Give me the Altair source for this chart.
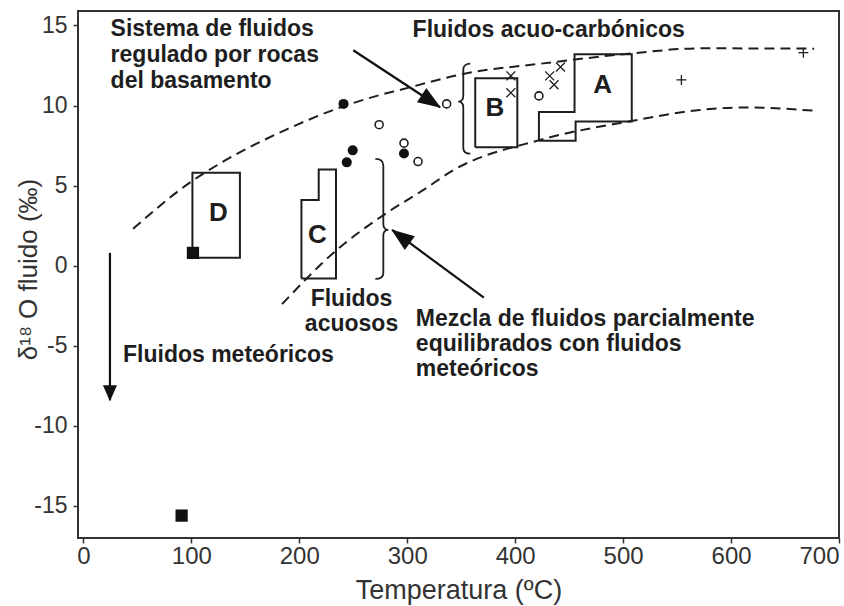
import math
import altair as alt
import pandas as pd

# ---------------- data ----------------
x_ticks = [0, 100, 200, 300, 400, 500, 600, 700]
y_ticks = [15, 10, 5, 0, -5, -10, -15]

# field boxes (closed outlines): temperature (ºC), d18O (‰)
box_D_t = [101, 145, 145, 101, 101]
box_D_d = [0.5, 0.5, 5.8, 5.8, 0.5]
box_C_t = [202, 234, 234, 218, 218, 202, 202]
box_C_d = [-0.8, -0.8, 6.0, 6.0, 4.1, 4.1, -0.8]
box_B_t = [363, 402, 402, 363, 363]
box_B_d = [7.4, 7.4, 11.7, 11.7, 7.4]
box_A_t = [422, 456, 456, 508, 508, 455, 455, 422, 422]
box_A_d = [7.8, 7.8, 9.0, 9.0, 13.2, 13.2, 9.6, 9.6, 7.8]

box_labels = ["D", "C", "B", "A"]
box_label_t = [125, 216.7, 381.3, 481]
box_label_d = [3.27, 1.92, 9.83, 11.28]

# dashed envelope curves
upper_t = [46, 102, 127, 188, 241, 275, 293, 354, 426, 509, 571, 677]
upper_d = [2.3, 5.35, 6.4, 8.5, 9.95, 10.66, 10.97, 12.0, 12.63, 13.26, 13.57, 13.55]
lower_t = [184, 235, 278, 315, 343, 423, 509, 571, 612, 680]
lower_d = [-2.4, 1.0, 3.16, 4.73, 5.97, 7.85, 9.05, 9.72, 9.88, 9.66]

# symbols
filled_t = [241, 249.5, 244, 297]
filled_d = [10.1, 7.2, 6.45, 7.0]
open_t = [274, 297, 310, 336.5, 422]
open_d = [8.8, 7.65, 6.5, 10.1, 10.6]
cross_t = [396, 396, 432, 442, 436]
cross_d = [11.85, 10.8, 11.85, 12.4, 11.3]
plus_t = [554, 667]
plus_d = [11.6, 13.3]
square_t = [101.5, 91]
square_d = [0.8, -15.6]

# arrows: start -> tip
arrow_kind = ["big", "big", "small"]
arrow_t0 = [250, 371, 24.6]
arrow_d0 = [13.45, -2.0, 0.8]
arrow_t1 = [330.4, 286, 24.6]
arrow_d1 = [9.89, 2.23, -8.4]

# braces (tip position)
brace_kind = ["open_right", "open_left"]
brace_t = [347.3, 282.5]
brace_d = [10.24, 2.23]

# annotation texts
left_text = ["Sistema de fluidos", "regulado por rocas", "del basamento",
             "Fluidos acuo-carbónicos",
             "Mezcla de fluidos parcialmente", "equilibrados con fluidos", "meteóricos",
             "Fluidos meteóricos"]
left_t = [25.2, 25.2, 25.2, 305, 308, 308, 308, 36.7]
left_d = [14.78, 13.14, 11.52, 14.71, -3.31, -4.88, -6.44, -5.55]
center_text = ["Fluidos", "acuosos"]
center_t = [248.4, 248.4]
center_d = [-2.05, -3.61]

# ---------------- layout / style ----------------
W, H = 761, 527
X_DOM = [-5, 700]
Y_DOM = [-17, 15.9]
INK = "#1e1e1e"
SANS = "Liberation Sans, Arial, sans-serif"
NARROW = "Liberation Sans Narrow, Arial Narrow, Liberation Sans, sans-serif"

xs = alt.Scale(domain=X_DOM, nice=False, zero=False)
ys = alt.Scale(domain=Y_DOM, nice=False, zero=False)

x_axis = alt.Axis(values=x_ticks, grid=False, domain=False, tickSize=5, tickWidth=1.5,
                  tickColor="#333", labelFont=NARROW, labelFontSize=24, labelColor="#333",
                  labelPadding=1, labelFlush=3, labelExpr="'' + datum.value",
                  title="Temperatura (ºC)", titleFont=SANS,
                  titleFontSize=27, titleFontWeight="normal", titleColor="#333",
                  titleY=60, titleBaseline="alphabetic")
y_axis = alt.Axis(values=y_ticks, grid=False, domain=False, tickSize=5, tickWidth=1.5,
                  tickColor="#333", labelFont=NARROW, labelFontSize=23, labelColor="#333",
                  labelPadding=6, labelExpr="'' + datum.value",
                  title="δ¹⁸ O fluido (‰)", titleFont=SANS,
                  titleFontSize=26, titleFontWeight="normal", titleColor="#333",
                  titleX=-50, titleY=258, titleAlign="center", titleBaseline="middle")


def X(field="t"):
    return alt.X(f"{field}:Q", scale=xs, axis=x_axis)


def Y(field="d"):
    return alt.Y(f"{field}:Q", scale=ys, axis=y_axis)


# ---------------- tables ----------------
rows = []
for name, tt, dd in [("D", box_D_t, box_D_d), ("C", box_C_t, box_C_d),
                     ("B", box_B_t, box_B_d), ("A", box_A_t, box_A_d)]:
    for i, (a, b) in enumerate(zip(tt, dd)):
        rows.append({"box": name, "i": i, "t": a, "d": b})
boxes = pd.DataFrame(rows)

rows = []
for name, tt, dd in [("upper", upper_t, upper_d), ("lower", lower_t, lower_d)]:
    for i, (a, b) in enumerate(zip(tt, dd)):
        rows.append({"curve": name, "i": i, "t": a, "d": b})
curves = pd.DataFrame(rows)

px_t = W / (X_DOM[1] - X_DOM[0])
px_d = H / (Y_DOM[1] - Y_DOM[0])
arrows = pd.DataFrame({"kind": arrow_kind, "t": arrow_t0, "d": arrow_d0,
                       "t2": arrow_t1, "d2": arrow_d1})
arrows["ang"] = [math.degrees(math.atan2((b - a) * px_t, (d - c) * px_d)) % 360
                 for a, b, c, d in zip(arrow_t0, arrow_t1, arrow_d0, arrow_d1)]
heads = arrows[["kind", "t2", "d2", "ang"]].rename(columns={"t2": "t", "d2": "d"})
heads_big = heads[heads["kind"] == "big"]
heads_small = heads[heads["kind"] == "small"]

braces = pd.DataFrame({"kind": brace_kind, "t": brace_t, "d": brace_d})

HEAD_BIG = "M0,-1L8.5,22L-8.5,22Z"
HEAD_SMALL = "M0,-1L7,15L-7,15Z"
BRACE_R = "M12,-38C8,-38 5,-36 5,-32L5,-6C5,-2 3,0 0,0C3,0 5,2 5,6L5,46C5,50 8,52 12,52"
BRACE_L = "M-13,-71C-8,-71 -5,-69 -5,-64L-5,-6C-5,-2 -3,0 0,0C-3,0 -5,2 -5,6L-5,43C-5,47 -8,49 -13,49"
CROSS = "M-1,-1L1,1M-1,1L1,-1"
PLUS = "M-1,0L1,0M0,-1L0,1"

# ---------------- layers ----------------
box_layer = alt.Chart(boxes).mark_line(color=INK, strokeWidth=2, strokeJoin="miter").encode(
    x=X(), y=Y(), detail="box:N", order="i:Q")

curve_layer = alt.Chart(curves).mark_line(color=INK, strokeWidth=2, strokeDash=[10, 6],
                                          interpolate="monotone").encode(
    x=X(), y=Y(), detail="curve:N", order="i:Q")

filled_layer = alt.Chart(pd.DataFrame({"t": filled_t, "d": filled_d})).mark_point(
    shape="circle", filled=True, size=100, opacity=1, color="#111").encode(x=X(), y=Y())

open_layer = alt.Chart(pd.DataFrame({"t": open_t, "d": open_d})).mark_point(
    shape="circle", filled=False, size=64, opacity=1, strokeWidth=1.6, color=INK).encode(x=X(), y=Y())

cross_layer = alt.Chart(pd.DataFrame({"t": cross_t, "d": cross_d})).mark_point(
    shape=CROSS, filled=False, size=81, opacity=1, strokeWidth=1.3, color=INK).encode(x=X(), y=Y())

plus_layer = alt.Chart(pd.DataFrame({"t": plus_t, "d": plus_d})).mark_point(
    shape=PLUS, filled=False, size=100, opacity=1, strokeWidth=1.3, color=INK).encode(x=X(), y=Y())

square_layer = alt.Chart(pd.DataFrame({"t": square_t, "d": square_d})).mark_point(
    shape="square", filled=True, size=150, opacity=1, color="#111").encode(x=X(), y=Y())

shaft_layer = alt.Chart(arrows).mark_rule(color="#111", strokeWidth=2.2).encode(
    x=X(), y=Y(), x2="t2:Q", y2="d2:Q")

head_big_layer = alt.Chart(heads_big).mark_point(
    shape=HEAD_BIG, filled=True, size=4, opacity=1, color="#111").encode(
    x=X(), y=Y(), angle=alt.Angle("ang:Q", scale=None))

head_small_layer = alt.Chart(heads_small).mark_point(
    shape=HEAD_SMALL, filled=True, size=4, opacity=1, color="#111").encode(
    x=X(), y=Y(), angle=alt.Angle("ang:Q", scale=None))

brace_r_layer = alt.Chart(braces[braces["kind"] == "open_right"]).mark_point(
    shape=BRACE_R, filled=False, size=4, opacity=1, strokeWidth=1.8, color=INK).encode(x=X(), y=Y())

brace_l_layer = alt.Chart(braces[braces["kind"] == "open_left"]).mark_point(
    shape=BRACE_L, filled=False, size=4, opacity=1, strokeWidth=1.8, color=INK).encode(x=X(), y=Y())

left_layer = alt.Chart(pd.DataFrame({"label": left_text, "t": left_t, "d": left_d})).mark_text(
    align="left", baseline="middle", font=SANS, fontWeight="bold", fontSize=23, color=INK).encode(
    x=X(), y=Y(), text="label:N")

center_layer = alt.Chart(pd.DataFrame({"label": center_text, "t": center_t, "d": center_d})).mark_text(
    align="center", baseline="middle", font=SANS, fontWeight="bold", fontSize=23, color=INK).encode(
    x=X(), y=Y(), text="label:N")

letter_layer = alt.Chart(pd.DataFrame({"label": box_labels, "t": box_label_t, "d": box_label_d})).mark_text(
    align="center", baseline="middle", font=SANS, fontWeight="bold", fontSize=26, color=INK).encode(
    x=X(), y=Y(), text="label:N")

chart = alt.layer(
    curve_layer, box_layer, filled_layer, open_layer, cross_layer, plus_layer, square_layer,
    shaft_layer, head_big_layer, head_small_layer, brace_r_layer, brace_l_layer,
    left_layer, center_layer, letter_layer
).properties(
    width=W, height=H,
    padding={"left": 78, "top": 11, "right": 5, "bottom": 68},
    autosize=alt.AutoSizeParams(type="none"),
    background="white",
).configure_view(stroke="#333", strokeWidth=2)

chart.save("out.html", embed_options={"renderer": "svg", "actions": False})
